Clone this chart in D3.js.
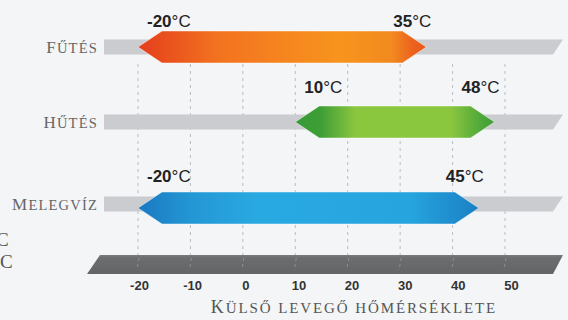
<!DOCTYPE html>
<html>
<head>
<meta charset="utf-8">
<script src="https://cdn.jsdelivr.net/npm/d3@7"></script>
<style>
  body { margin: 0; background: #f3f5f7; }
  svg { display: block; }
  .mode { font-family: "Liberation Serif", "DejaVu Serif", serif; fill: #666; }
  .temp { font-family: "Liberation Sans", Arial, sans-serif; fill: #222; font-size: 17px; }
  .temp .num { font-weight: bold; }
  .axis text { font-family: "Liberation Sans", Arial, sans-serif; font-weight: bold; font-size: 13px; fill: #333; }
  .title { font-family: "Liberation Serif", "DejaVu Serif", serif; fill: #555; }
</style>
</head>
<body>
<div id="chart"></div>
<script>
// data
const modes = ['Fűtés', 'Hűtés', 'Melegvíz'];
const minTemps = [-20, 10, -20];
const maxTemps = [35, 48, 45];
const tickValues = [-20, -10, 0, 10, 20, 30, 40, 50];
const axisTitle = 'Külső levegő hőmérséklete';

const width = 568, height = 320;

const svg = d3.select('#chart').append('svg')
  .attr('width', width)
  .attr('height', height);

svg.append('rect').attr('width', width).attr('height', height).attr('fill', '#f3f5f7');

const x = d3.scaleLinear().domain([-20, 50]).range([138, 505]);
// tick labels sit a little further right the higher they go (skewed base bar)
const xLabel = d3.scaleLinear().domain([-20, 50]).range([139, 511]);
const y = d3.scaleOrdinal().domain(modes).range([47, 122, 208]);
const trackShift = d3.scaleOrdinal().domain(modes).range([0, 0, -4]);
const labelGap = d3.scaleOrdinal().domain(modes).range([20, 29, 26]);

const rows = modes.map((m, i) => ({ mode: m, min: minTemps[i], max: maxTemps[i] }));

// hand made small caps: first letter big, the rest upper case and smaller
function smallCaps(sel, str, big, small) {
  sel.append('tspan').attr('font-size', big).text(str.charAt(0).toUpperCase());
  sel.append('tspan').attr('font-size', small).text(str.slice(1).toUpperCase());
}

// gradients
const defs = svg.append('defs');
const grads = {
  'Fűtés': [[0, '#e43e1c'], [0.28, '#f37320'], [0.7, '#f7941d'], [0.88, '#f28a1f'], [0.95, '#ec641d'], [1, '#e9571c']],
  'Hűtés': [[0, '#379a36'], [0.13, '#3f9f36'], [0.3, '#8bc63f'], [0.78, '#8bc63f'], [0.92, '#54aa3a'], [1, '#3c9c37']],
  'Melegvíz': [[0, '#1a78c2'], [0.15, '#2396d4'], [0.35, '#29a9e1'], [0.8, '#26a4de'], [1, '#1b7fc4']]
};
modes.forEach((m, i) => {
  const g = defs.append('linearGradient').attr('id', 'g' + i)
    .attr('x1', 0).attr('x2', 1).attr('y1', 0).attr('y2', 0);
  g.selectAll('stop').data(grads[m]).enter().append('stop')
    .attr('offset', d => d[0]).attr('stop-color', d => d[1]);
});
const barGrad = defs.append('linearGradient').attr('id', 'baseGrad')
  .attr('x1', 0).attr('x2', 0).attr('y1', 0).attr('y2', 1);
barGrad.append('stop').attr('offset', 0).attr('stop-color', '#7b7c7e');
barGrad.append('stop').attr('offset', 0.15).attr('stop-color', '#6c6d6f');
barGrad.append('stop').attr('offset', 1).attr('stop-color', '#646567');

// dashed guides
svg.selectAll('.guide')
  .data(tickValues)
  .enter()
  .append('line')
  .attr('class', 'guide')
  .attr('x1', d => x(d)).attr('x2', d => x(d))
  .attr('y1', 64).attr('y2', 256)
  .attr('stroke', '#b9bcc0')
  .attr('stroke-dasharray', '3,4');

// grey tracks
const trackLeft = 104, trackTopRight = 563, trackBottomRight = 553, th = 7.5;
svg.selectAll('.track')
  .data(rows)
  .enter()
  .append('path')
  .attr('class', 'track')
  .attr('d', d => {
    const cy = y(d.mode) + trackShift(d.mode);
    return 'M' + trackLeft + ',' + (cy - th) + 'L' + trackTopRight + ',' + (cy - th) +
      'L' + trackBottomRight + ',' + (cy + th) + 'L' + trackLeft + ',' + (cy + th) + 'Z';
  })
  .attr('fill', '#cacccf');

// arrows
const h = 16, s = 24;
svg.selectAll('.range')
  .data(rows)
  .enter()
  .append('path')
  .attr('class', 'range')
  .attr('d', d => {
    const x0 = x(d.min), x1 = x(d.max), cy = y(d.mode);
    return 'M' + x0 + ',' + cy + 'L' + (x0 + s) + ',' + (cy - h) + 'L' + (x1 - s) + ',' + (cy - h) +
      'L' + x1 + ',' + cy + 'L' + (x1 - s) + ',' + (cy + h) + 'L' + (x0 + s) + ',' + (cy + h) + 'Z';
  })
  .attr('fill', (d, i) => 'url(#g' + i + ')')
  .attr('stroke', 'rgba(255,255,255,0.45)')
  .attr('stroke-width', 1);

// mode labels
svg.selectAll('.mode')
  .data(rows)
  .enter()
  .append('text')
  .attr('class', 'mode')
  .attr('x', 98)
  .attr('y', d => y(d.mode) + trackShift(d.mode) + 6)
  .attr('text-anchor', 'end')
  .attr('letter-spacing', 1.2)
  .each(function(d) { smallCaps(d3.select(this), d.mode, 17, 14.5); });

// temperature labels
function tempLabel(sel, value) {
  sel.append('tspan').attr('class', 'num').text(value);
  sel.append('tspan').text('°C');
}
rows.forEach(d => {
  svg.append('text').attr('class', 'temp')
    .attr('x', x(d.min) + 9)
    .attr('y', y(d.mode) - labelGap(d.mode))
    .call(tempLabel, d.min);
  svg.append('text').attr('class', 'temp')
    .attr('x', x(d.max) + 5)
    .attr('y', y(d.mode) - labelGap(d.mode))
    .attr('text-anchor', 'end')
    .call(tempLabel, d.max);
});

// base bar
svg.append('path')
  .attr('d', 'M100,255L563,255L553,274L87,274Z')
  .attr('fill', 'url(#baseGrad)');

svg.selectAll('.mark')
  .data(tickValues)
  .enter()
  .append('line')
  .attr('class', 'mark')
  .attr('x1', d => x(d) + 1).attr('x2', d => x(d) - 1)
  .attr('y1', 258).attr('y2', 270)
  .attr('stroke', '#8e8f92')
  .attr('stroke-dasharray', '3,3');

// axis labels
const axis = d3.axisBottom(xLabel)
  .tickValues(tickValues)
  .tickFormat(d => String(d))
  .tickSize(0)
  .tickPadding(0);
svg.append('g')
  .attr('class', 'axis')
  .attr('transform', 'translate(0,281)')
  .call(axis)
  .call(g => g.select('.domain').remove());

svg.append('text')
  .attr('class', 'title')
  .attr('x', 354)
  .attr('y', 313)
  .attr('text-anchor', 'middle')
  .attr('letter-spacing', 1.9)
  .call(smallCaps, axisTitle, 18, 15);

// clipped letters at the left edge
svg.append('text').attr('class', 'title').attr('x', -4).attr('y', 246).attr('font-size', 19).text('C');
svg.append('text').attr('class', 'title').attr('x', 0).attr('y', 268).attr('font-size', 19).text('C');
</script>
</body>
</html>
